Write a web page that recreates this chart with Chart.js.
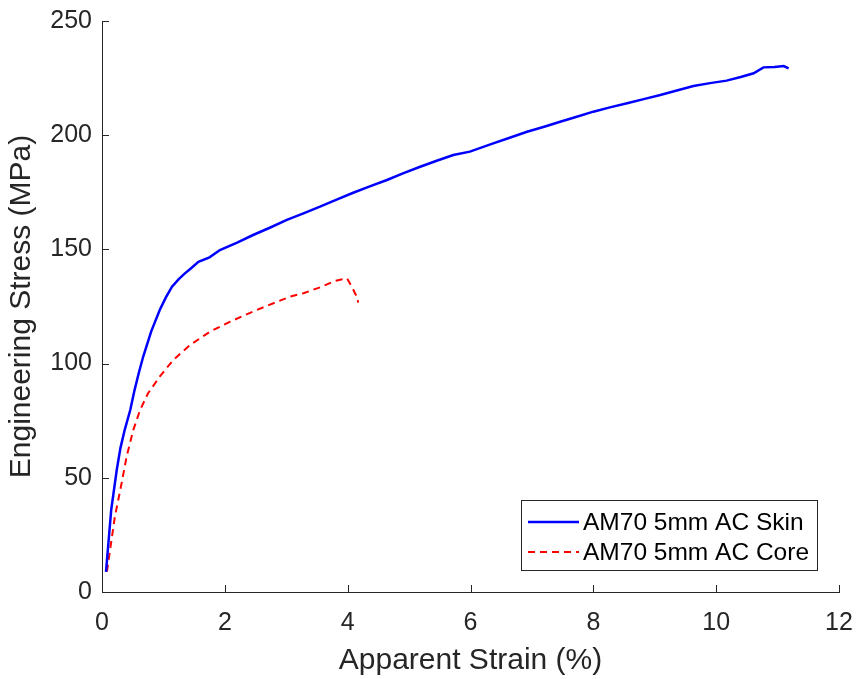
<!DOCTYPE html>
<html>
<head>
<meta charset="utf-8">
<script src="https://cdn.jsdelivr.net/npm/chart.js@4.4.0/dist/chart.umd.min.js"></script>
<style>
  html, body { margin: 0; padding: 0; background: #fff; }
  #wrap { width: 859px; height: 679px; }
</style>
</head>
<body>
<div id="wrap"><canvas id="c"></canvas></div>
<script>
// strain (%) and stress (MPa)
var skinStrain = [0.065, 0.15, 0.24, 0.3, 0.37, 0.46, 0.53, 0.6, 0.67, 0.8, 0.94, 1.04, 1.14, 1.25, 1.35, 1.46, 1.57, 1.75, 1.92,
  2.2, 2.46, 2.75, 3.01, 3.28, 3.55, 3.82, 4.09, 4.36, 4.64, 4.9, 5.18, 5.45, 5.72, 5.99, 6.37, 6.65, 6.92, 7.2, 7.46, 7.73,
  8.0, 8.27, 8.55, 8.82, 9.09, 9.36, 9.63, 9.9, 10.17, 10.4, 10.61, 10.77, 10.95, 11.1, 11.18];
var skinStress = [8.8, 36, 53.4, 63, 71, 79.7, 88.4, 96, 103, 114, 123.5, 129, 133.7, 137, 139.5, 142, 144.6, 146.5, 149.7,
  153, 156.3, 159.7, 162.9, 165.8, 168.7, 171.8, 174.8, 177.6, 180.4, 183.3, 186.2, 188.8, 191.3, 192.8, 196.4, 199, 201.5, 203.7, 205.9, 208.1,
  210.3, 212.2, 214, 215.8, 217.6, 219.6, 221.5, 222.8, 223.9, 225.5, 227.1, 229.7, 229.9, 230.3, 229.3];

var coreStrain = [0.08, 0.21, 0.32, 0.4, 0.51, 0.62, 0.75, 0.94, 1.16, 1.43, 1.76, 2.08, 2.52, 3.06, 3.28, 3.55, 3.79, 3.99, 4.08, 4.16, 4.17];
var coreStress = [8.9, 33, 47.7, 59.2, 71, 79.7, 87, 94.3, 101.6, 108.1, 114, 118.3, 123.5, 129.3, 130.8, 133.4, 136.2, 137.3, 133, 128.6, 126.7];

var seriesNames = ["AM70 5mm AC Skin", "AM70 5mm AC Core"];
var xTitle = "Apparent Strain (%)";
var yTitle = "Engineering Stress (MPa)";

var axisColor = "#262626";
var fontFamily = "'Liberation Sans', Arial, Helvetica, sans-serif";

function toPoints(xs, ys) {
  return xs.map(function (x, i) { return { x: x, y: ys[i] }; });
}

// MATLAB style ticks pointing into the plot, plus boxed legend inside
var extras = {
  id: "extras",
  afterDatasetsDraw: function (chart) {
    var ctx = chart.ctx;
    var area = chart.chartArea;
    var xs = chart.scales.x, ys = chart.scales.y;
    ctx.save();
    ctx.strokeStyle = axisColor;
    ctx.lineWidth = 1;
    ctx.beginPath();
    xs.ticks.forEach(function (t) {
      var px = Math.round(xs.getPixelForValue(t.value)) + 0.5;
      ctx.moveTo(px, area.bottom);
      ctx.lineTo(px, area.bottom - 7);
    });
    ys.ticks.forEach(function (t) {
      var py = Math.round(ys.getPixelForValue(t.value)) + 0.5;
      ctx.moveTo(area.left, py);
      ctx.lineTo(area.left + 7, py);
    });
    ctx.stroke();

    // legend
    var bx = 521.5, by = 500.5, bw = 296, bh = 70;
    ctx.fillStyle = "#fff";
    ctx.fillRect(bx, by, bw, bh);
    ctx.strokeStyle = "#262626";
    ctx.strokeRect(bx, by, bw, bh);
    var rows = [522, 552];
    chart.data.datasets.forEach(function (ds, i) {
      ctx.beginPath();
      ctx.strokeStyle = ds.borderColor;
      ctx.lineWidth = ds.borderWidth;
      ctx.setLineDash(ds.borderDash || []);
      ctx.moveTo(528, rows[i]);
      ctx.lineTo(579, rows[i]);
      ctx.stroke();
      ctx.setLineDash([]);
      ctx.fillStyle = "#000";
      ctx.font = "24.5px " + fontFamily;
      ctx.textBaseline = "middle";
      ctx.textAlign = "left";
      ctx.fillText(ds.label, 583, rows[i] + 1);
    });
    ctx.restore();
  }
};

new Chart(document.getElementById("c"), {
  type: "scatter",
  data: {
    datasets: [
      {
        label: seriesNames[0],
        data: toPoints(skinStrain, skinStress),
        showLine: true,
        borderColor: "#0000ff",
        borderWidth: 2.5,
        pointRadius: 0,
        tension: 0
      },
      {
        label: seriesNames[1],
        data: toPoints(coreStrain, coreStress),
        showLine: true,
        borderColor: "#ff0000",
        borderWidth: 2,
        borderDash: [7, 5],
        pointRadius: 0,
        tension: 0
      }
    ]
  },
  options: {
    responsive: true,
    maintainAspectRatio: false,
    animation: false,
    layout: { padding: { top: 21, right: 20, left: 0, bottom: 0 } },
    plugins: {
      legend: { display: false },
      tooltip: { enabled: false }
    },
    scales: {
      x: {
        type: "linear",
        min: 0,
        max: 12,
        afterFit: function (s) { s.height = 87; s.paddingLeft = 0; s.paddingRight = 0; },
        ticks: {
          stepSize: 2,
          padding: 16,
          color: axisColor,
          font: { family: fontFamily, size: 25 }
        },
        grid: { drawOnChartArea: false, drawTicks: false },
        border: { display: true, color: axisColor, width: 1 },
        title: {
          display: true,
          text: xTitle,
          color: axisColor,
          font: { family: fontFamily, size: 30 },
          padding: { top: 0, bottom: 0 }
        }
      },
      y: {
        type: "linear",
        min: 0,
        max: 250,
        afterFit: function (s) { s.width = 102; s.paddingTop = 0; s.paddingBottom = 0; },
        ticks: {
          stepSize: 50,
          padding: 10,
          color: axisColor,
          font: { family: fontFamily, size: 25 }
        },
        grid: { drawOnChartArea: false, drawTicks: false },
        border: { display: true, color: axisColor, width: 1 },
        title: {
          display: true,
          text: yTitle,
          color: axisColor,
          font: { family: fontFamily, size: 30 },
          padding: { top: 4, bottom: 0 }
        }
      }
    }
  },
  plugins: [extras]
});
</script>
</body>
</html>
